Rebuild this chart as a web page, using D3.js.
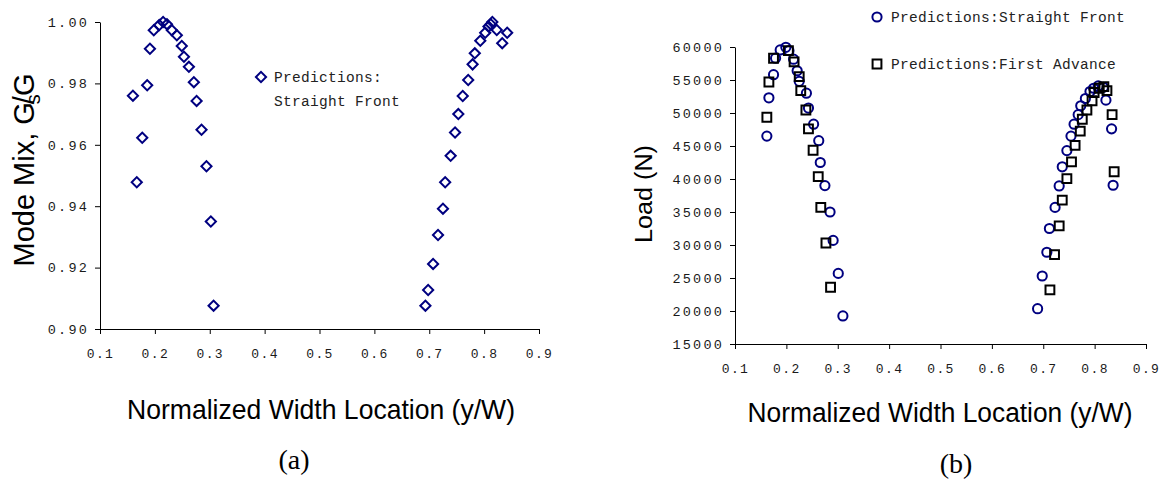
<!DOCTYPE html>
<html>
<head>
<meta charset="utf-8">
<script src="https://cdn.jsdelivr.net/npm/d3@7"></script>
<style>
  html, body { margin: 0; padding: 0; background: #fff; }
  svg { display: block; }
  .tick text { font-family: "Liberation Mono", "Courier New", monospace; font-size: 13.5px; letter-spacing: 2.2px; fill: #1a1a1a; }
  .xax .tick text { font-size: 13px; letter-spacing: 1.4px; }
  .tick line, .domain { stroke: #000; stroke-width: 1; }
</style>
</head>
<body>
<svg id="chart" width="1160" height="480"></svg>
<script>
// ---------- Data ----------
const xTicks = [0.1, 0.2, 0.3, 0.4, 0.5, 0.6, 0.7, 0.8, 0.9];
const modeMixTicks = [0.90, 0.92, 0.94, 0.96, 0.98, 1.00];
const loadTicks = [15000, 20000, 25000, 30000, 35000, 40000, 45000, 50000, 55000, 60000];

// (a) Mode mix, straight front predictions
const modeMixX = [0.160, 0.167, 0.177, 0.186, 0.191, 0.198, 0.208, 0.215, 0.222, 0.231, 0.240, 0.249, 0.253, 0.262, 0.271, 0.276, 0.285, 0.294, 0.302, 0.307,
                  0.693, 0.698, 0.707, 0.716, 0.725, 0.729, 0.739, 0.747, 0.753, 0.761, 0.771, 0.779, 0.783, 0.793, 0.802, 0.808, 0.812, 0.815, 0.823, 0.833, 0.842];
const modeMixY = [0.9760, 0.9478, 0.9623, 0.9794, 0.9913, 0.9973, 0.9990, 1.0000, 0.9993, 0.9973, 0.9957, 0.9922, 0.9887, 0.9854, 0.9804, 0.9743, 0.9649, 0.9530, 0.9350, 0.9076,
                  0.9076, 0.9127, 0.9212, 0.9306, 0.9392, 0.9478, 0.9564, 0.9640, 0.9700, 0.9759, 0.9811, 0.9862, 0.9898, 0.9939, 0.9965, 0.9985, 0.9993, 1.0000, 0.9974, 0.9931, 0.9965];

// (b) Load, straight front predictions
const straightX = [0.162, 0.166, 0.175, 0.179, 0.188, 0.199, 0.205, 0.214, 0.221, 0.225, 0.239, 0.243, 0.253, 0.263, 0.266, 0.275, 0.285, 0.291, 0.301, 0.310,
                   0.689, 0.698, 0.707, 0.712, 0.723, 0.731, 0.737, 0.746, 0.754, 0.760, 0.768, 0.773, 0.782, 0.791, 0.798, 0.807, 0.817, 0.822, 0.833, 0.836];
const straightLoad = [46500, 52300, 55800, 58300, 59550, 59950, 59450, 58150, 56400, 54800, 53000, 50750, 48300, 45800, 42500, 39000, 35000, 30700, 25700, 19250,
                      20350, 25300, 28900, 32500, 35700, 38950, 41850, 44300, 46500, 48300, 49750, 51100, 52200, 53250, 53750, 54100, 53900, 51950, 47600, 39050];

// (b) Load, first advance predictions
const advanceX = [0.162, 0.166, 0.175, 0.204, 0.215, 0.225, 0.228, 0.238, 0.243, 0.252, 0.262, 0.267, 0.277, 0.286,
                  0.713, 0.722, 0.731, 0.737, 0.746, 0.755, 0.762, 0.772, 0.776, 0.785, 0.795, 0.799, 0.809, 0.818, 0.824, 0.834, 0.838];
const advanceLoad = [49350, 54700, 58300, 59450, 57750, 55500, 53400, 50450, 47600, 44350, 40350, 35700, 30300, 23600,
                     23200, 28550, 32900, 36800, 40050, 42600, 45100, 47250, 49050, 50450, 51850, 53100, 53750, 54000, 53400, 49750, 41100];

// ---------- Drawing ----------
const svg = d3.select("#chart");
const navy = "#000080";

function drawAxes(g, x, y, xt, yt, yfmt) {
  const xAxis = d3.axisBottom(x).tickValues(xt).tickSize(5).tickSizeOuter(0).tickPadding(15)
    .tickFormat(d3.format(".1f"));
  const yAxis = d3.axisLeft(y).tickValues(yt).tickSize(5).tickSizeOuter(0).tickPadding(6)
    .tickFormat(yfmt);
  g.append("g").attr("class", "xax").attr("transform", `translate(0,${y.range()[0]})`).call(xAxis);
  g.append("g").attr("transform", `translate(${x.range()[0]},0)`).call(yAxis);
}

// ----- Chart (a) -----
const xa = d3.scaleLinear().domain([0.1, 0.9]).range([100, 539]);
const ya = d3.scaleLinear().domain([0.90, 1.00]).range([329, 22]);
const ga = svg.append("g");
drawAxes(ga, xa, ya, xTicks, modeMixTicks, d3.format(".2f"));

const diamond = d3.symbol(d3.symbolSquare, 52)();
ga.append("g").selectAll("path").data(modeMixX.map((d, i) => [d, modeMixY[i]])).join("path")
  .attr("d", diamond)
  .attr("transform", d => `translate(${xa(d[0])},${ya(d[1])}) rotate(45)`)
  .attr("fill", "none").attr("stroke", navy).attr("stroke-width", 2);

// legend (a)
ga.append("path").attr("d", diamond)
  .attr("transform", `translate(261,77) rotate(45)`)
  .attr("fill", "none").attr("stroke", navy).attr("stroke-width", 2);
const legA = ga.append("text").attr("font-family", "'Liberation Mono', monospace")
  .attr("font-size", 14.5).attr("fill", "#222").attr("letter-spacing", 0.3);
legA.append("tspan").attr("x", 274).attr("y", 82).text("Predictions:");
legA.append("tspan").attr("x", 274).attr("y", 106).text("Straight Front");

// y title (a)
const yta = ga.append("text").attr("transform", "translate(34,170) rotate(-90)")
  .attr("text-anchor", "middle").attr("font-family", "'Liberation Sans', Arial, sans-serif")
  .attr("font-size", 29).attr("fill", "#000");
yta.append("tspan").text("Mode Mix, G");
yta.append("tspan").attr("font-size", 20).attr("dy", 6).attr("dx", -2).text("s");
yta.append("tspan").attr("dy", -6).attr("dx", -10).text("/G");

// x title (a)
ga.append("text").attr("x", 321).attr("y", 419).attr("text-anchor", "middle")
  .attr("font-family", "'Liberation Sans', Arial, sans-serif").attr("font-size", 28)
  .attr("textLength", 388).attr("lengthAdjust", "spacingAndGlyphs")
  .text("Normalized Width Location (y/W)");
ga.append("text").attr("x", 294).attr("y", 469).attr("text-anchor", "middle")
  .attr("font-family", "'Liberation Serif', 'Times New Roman', serif").attr("font-size", 28)
  .text("(a)");

// ----- Chart (b) -----
const xb = d3.scaleLinear().domain([0.1, 0.9]).range([735, 1146]);
const yb = d3.scaleLinear().domain([15000, 60000]).range([344, 47]);
const gb = svg.append("g");
drawAxes(gb, xb, yb, xTicks, loadTicks, d3.format("d"));

gb.append("g").selectAll("circle").data(straightX.map((d, i) => [d, straightLoad[i]])).join("circle")
  .attr("cx", d => xb(d[0])).attr("cy", d => yb(d[1])).attr("r", 4.6)
  .attr("fill", "none").attr("stroke", navy).attr("stroke-width", 2);

const square = d3.symbol(d3.symbolSquare, 78)();
gb.append("g").selectAll("path").data(advanceX.map((d, i) => [d, advanceLoad[i]])).join("path")
  .attr("d", square)
  .attr("transform", d => `translate(${xb(d[0])},${yb(d[1])})`)
  .attr("fill", "none").attr("stroke", "#000").attr("stroke-width", 2);

// legend (b)
gb.append("circle").attr("cx", 877).attr("cy", 17).attr("r", 4.6)
  .attr("fill", "none").attr("stroke", navy).attr("stroke-width", 2);
gb.append("path").attr("d", square).attr("transform", "translate(877,64)")
  .attr("fill", "none").attr("stroke", "#000").attr("stroke-width", 2);
gb.append("text").attr("x", 891).attr("y", 22).attr("font-family", "'Liberation Mono', monospace")
  .attr("font-size", 14.5).attr("fill", "#222").attr("letter-spacing", 0.3)
  .text("Predictions:Straight Front");
gb.append("text").attr("x", 891).attr("y", 69).attr("font-family", "'Liberation Mono', monospace")
  .attr("font-size", 14.5).attr("fill", "#222").attr("letter-spacing", 0.3)
  .text("Predictions:First Advance");

// y title (b)
gb.append("text").attr("transform", "translate(652,194) rotate(-90)")
  .attr("text-anchor", "middle").attr("font-family", "'Liberation Sans', Arial, sans-serif")
  .attr("font-size", 23).attr("textLength", 98).attr("lengthAdjust", "spacingAndGlyphs")
  .text("Load (N)");

// x title (b)
gb.append("text").attr("x", 940).attr("y", 422).attr("text-anchor", "middle")
  .attr("font-family", "'Liberation Sans', Arial, sans-serif").attr("font-size", 27)
  .attr("textLength", 385).attr("lengthAdjust", "spacingAndGlyphs")
  .text("Normalized Width Location (y/W)");
gb.append("text").attr("x", 956).attr("y", 473).attr("text-anchor", "middle")
  .attr("font-family", "'Liberation Serif', 'Times New Roman', serif").attr("font-size", 28)
  .text("(b)");
</script>
</body>
</html>
